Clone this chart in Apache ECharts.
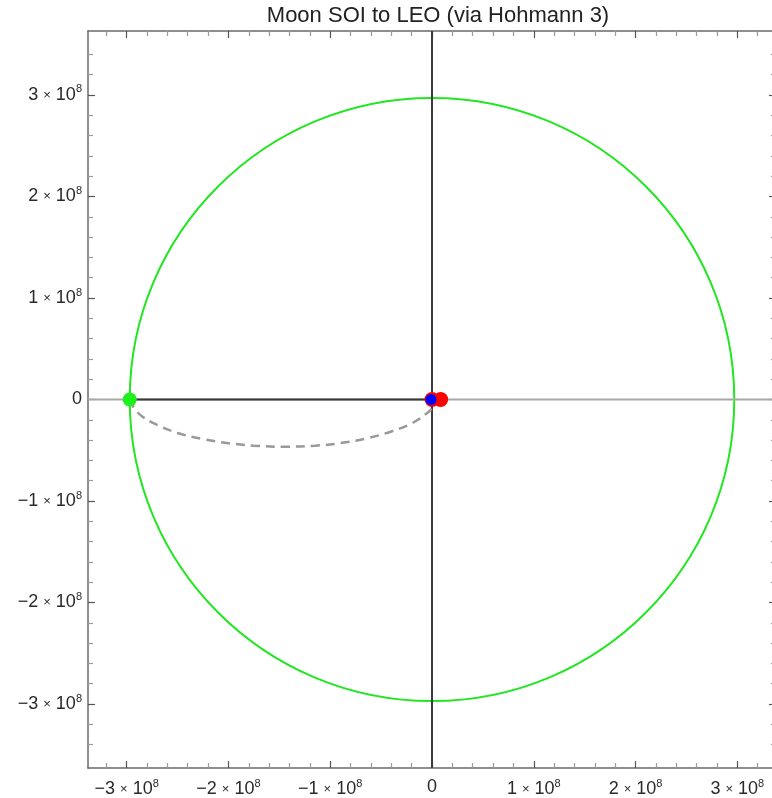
<!DOCTYPE html>
<html>
<head>
<meta charset="utf-8">
<script src="https://cdn.jsdelivr.net/npm/echarts@6/dist/echarts.min.js"></script>
<style>
  html, body { margin: 0; padding: 0; background: #fff; overflow: hidden; }
  #chart { width: 784px; height: 798px; }
</style>
</head>
<body>
<div id="chart"></div>
<script>
// values (metres)
const titleText = "Moon SOI to LEO (via Hohmann 3)";
const xRange = [-3.38e8, 3.38e8];
const yRange = [-3.63e8, 3.63e8];
const majorTicks = [-3e8, -2e8, -1e8, 0, 1e8, 2e8, 3e8];

// moon SOI circle: centre x, centre y, radius
const soiCircle = [[0, 0, 2.97e8]];

// black segment from SOI point to the origin
const radialSegment = [[-2.97e8, 0], [0, 0]];
// vertical line through the origin
const verticalLine = [[0, -3.63e8], [0, 3.63e8]];
// horizontal axis line
const horizontalAxis = [[-3.38e8, 0], [3.38e8, 0]];

// dashed transfer arc
const transferArc = [
  [-2.97e8, 0], [-2.93e8, -0.08e8], [-2.85e8, -0.165e8], [-2.7e8, -0.25e8],
  [-2.5e8, -0.33e8], [-2.25e8, -0.39e8], [-2.0e8, -0.43e8], [-1.75e8, -0.455e8],
  [-1.45e8, -0.465e8], [-1.15e8, -0.455e8], [-0.9e8, -0.43e8], [-0.65e8, -0.385e8],
  [-0.4e8, -0.315e8], [-0.2e8, -0.235e8], [-0.05e8, -0.135e8], [0.03e8, -0.055e8],
  [0.065e8, 0]
];

const greenPoints = [[-2.97e8, 0]];
const redPoints = [[0, 0], [0.085e8, 0]];
const bluePoints = [[-0.01e8, 0]];

// minor ticks every 0.2e8 between the majors
const minorTicks = [];
for (let i = -17; i <= 17; i++) {
  if (i % 5 !== 0) minorTicks.push(i * 0.2e8);
}

const frameColor = "#6a6a6a";

function fmt(v) {
  if (Math.abs(v) < 1) return "0";
  const n = Math.round(v / 1e8);
  const s = n < 0 ? "\u2212" + Math.abs(n) : String(n);
  return s + " {x|\u00d7} 10{s|8}";
}
const labelRich = {
  x: { fontSize: 13, color: "#2a2a2a", fontFamily: "Liberation Sans" },
  s: { fontSize: 11, color: "#2a2a2a", padding: [0, 0, 11, 0], fontFamily: "Liberation Sans" }
};

function mkX(pos, major, labels) {
  return {
    type: "value", position: pos, min: xRange[0], max: xRange[1],
    axisLine: { show: major, onZero: false, lineStyle: { color: frameColor, width: 1.5 } },
    splitLine: { show: false },
    axisTick: {
      show: true, inside: true, length: major ? 7 : 5,
      customValues: major ? majorTicks : minorTicks,
      lineStyle: { color: major ? "#555" : "#9a9a9a", width: 1.2 }
    },
    axisLabel: {
      show: labels, customValues: majorTicks, formatter: fmt, margin: 10,
      color: "#2a2a2a", fontSize: 18, fontFamily: "Liberation Sans", rich: labelRich
    }
  };
}
function mkY(pos, major, labels) {
  return {
    type: "value", position: pos, min: yRange[0], max: yRange[1],
    axisLine: { show: major, onZero: false, lineStyle: { color: frameColor, width: 1.5 } },
    splitLine: { show: false },
    axisTick: {
      show: true, inside: true, length: major ? 7 : 5,
      customValues: major ? majorTicks : minorTicks,
      lineStyle: { color: major ? "#555" : "#9a9a9a", width: 1.2 }
    },
    axisLabel: {
      show: labels, customValues: majorTicks, formatter: fmt, margin: 6,
      color: "#2a2a2a", fontSize: 18, fontFamily: "Liberation Sans", rich: labelRich
    }
  };
}

const chart = echarts.init(document.getElementById("chart"));
chart.setOption({
  animation: false,
  title: {
    text: titleText, left: 433, top: 0, textAlign: "center",
    textStyle: { fontFamily: "Liberation Sans", fontSize: 22, fontWeight: "normal", color: "#222" }
  },
  grid: { left: 88, top: 31, width: 688, height: 737 },
  xAxis: [mkX("bottom", true, true), mkX("bottom", false, false), mkX("top", true, false), mkX("top", false, false)],
  yAxis: [mkY("left", true, true), mkY("left", false, false), mkY("right", true, false), mkY("right", false, false)],
  series: [
    {
      type: "line", data: horizontalAxis, symbol: "none", silent: true,
      lineStyle: { color: "#a8a8a8", width: 2 }
    },
    {
      type: "custom", data: soiCircle, silent: true,
      renderItem: function (params, api) {
        const c = api.coord([api.value(0), api.value(1)]);
        const r = api.size([api.value(2), api.value(2)]);
        return {
          type: "ellipse",
          shape: { cx: c[0], cy: c[1], rx: r[0], ry: r[1] },
          style: { fill: "none", stroke: "#22e622", lineWidth: 2 }
        };
      }
    },
    {
      type: "line", data: radialSegment, symbol: "none", silent: true,
      lineStyle: { color: "#3a3a3a", width: 2 }
    },
    {
      type: "line", data: verticalLine, symbol: "none", silent: true,
      lineStyle: { color: "#3a3a3a", width: 2 }
    },
    {
      type: "line", data: transferArc, symbol: "none", smooth: 0.4, silent: true,
      lineStyle: { color: "#999", width: 2.5, type: [9, 6] }
    },
    {
      type: "scatter", data: redPoints, symbolSize: 15, silent: true, z: 5,
      itemStyle: { color: "#ff0000", opacity: 1 }
    },
    {
      type: "scatter", data: bluePoints, symbolSize: 11, silent: true, z: 6,
      itemStyle: { color: "#0000ff", opacity: 1 }
    },
    {
      type: "scatter", data: greenPoints, symbolSize: 14, silent: true, z: 6,
      itemStyle: { color: "#1ef01e", opacity: 1 }
    }
  ]
});
</script>
</body>
</html>
